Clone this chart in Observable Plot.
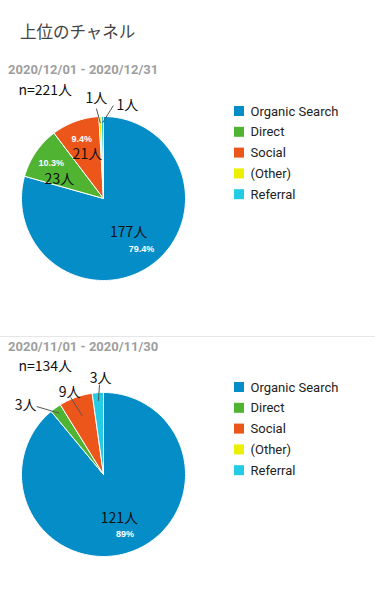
<!DOCTYPE html>
<html><head><meta charset="utf-8">
<script src="https://cdn.jsdelivr.net/npm/d3@7"></script>
<script src="https://cdn.jsdelivr.net/npm/@observablehq/plot@0.6"></script>
<style>
body{margin:0;background:#fff;width:375px;height:600px;position:relative;overflow:hidden;font-family:Roboto,"Noto Sans CJK JP",sans-serif}
.title{position:absolute;left:20px;top:21px;font-family:"Noto Sans CJK JP";font-size:16.5px;color:#444;line-height:20px;white-space:nowrap}
.date{position:absolute;left:8px;font-family:Roboto;font-weight:bold;font-size:13px;color:#9e9e9e;line-height:16px;white-space:nowrap}
.sep{position:absolute;left:0;width:375px;top:336px;height:1px;background:#e6e6e6}
.chart{position:absolute;left:0}
</style></head><body>
<div class="title">上位のチャネル</div>
<div id="d0" class="date" style="top:62px"></div>
<div id="c0" class="chart" style="top:80px"></div>
<div class="sep"></div>
<div id="d1" class="date" style="top:339px"></div>
<div id="c1" class="chart" style="top:356px"></div>
<script>
// ---- data ----
const channels = ["Organic Search", "Direct", "Social", "(Other)", "Referral"];
const channelColors = ["#058dc7", "#50b432", "#ed561b", "#edef00", "#24cbe5"];
const periods = ["2020/12/01 - 2020/12/31", "2020/11/01 - 2020/11/30"];
const totalsText = ["n=221人", "n=134人"];
const decUsers = [177, 23, 21, 1, 1];
const novUsers = [121, 3, 9, 0, 3];
const series = [decUsers, novUsers];

// ---- layout (not data) ----
const W = 375, H = 240, CX = 103, CY = 118, R = 82;
// outside labels: [leader inner radius factor, line-end dx, dy, text dx, dy] relative to slice edge point
const outerLayout = [
  {"(Other)": [0.92, -3.6, -8, -3.6, -18], "Referral": [0.92, 11, -11, 25, -11]},
  {"Direct": [0.92, -19, -1.4, -30, -2], "Social": [0.76, -5, 0, -6, -5], "Referral": [0.9, 1.7, -8, 2.7, -14]}
];
const innerNudge = [{"Direct": [-5.5, 7], "Organic Search": [-3, -3]}, {}];
const labelFont = "'Noto Sans CJK JP', sans-serif";

function polar(a, r) { return {x: CX + r * Math.sin(a), y: CY - r * Math.cos(a)}; }
function slicePoints(arc) {
  const pts = [{x: CX, y: CY}];
  const n = Math.max(2, Math.ceil((arc.endAngle - arc.startAngle) / (Math.PI / 180)));
  for (let k = 0; k <= n; k++) {
    pts.push(polar(arc.startAngle + (arc.endAngle - arc.startAngle) * k / n, R));
  }
  pts.push({x: CX, y: CY});
  return pts;
}

series.forEach((vals, i) => {
  document.getElementById("d" + i).textContent = periods[i];
  const rows = channels.map((c, j) => ({channel: c, value: vals[j], color: channelColors[j]}));
  const total = d3.sum(vals);
  const arcs = d3.pie().sort(null).value(d => d.value)(rows);
  const marks = [];
  arcs.filter(a => a.data.value > 0).forEach(a => {
    marks.push(Plot.line(slicePoints(a), {x: "x", y: "y", fill: a.data.color, stroke: "#fff", strokeWidth: 1, strokeLinejoin: "round"}));
  });
  const inner = [], outer = [];
  arcs.forEach(a => {
    if (a.data.value <= 0) return;
    const mid = (a.startAngle + a.endAngle) / 2;
    const frac = a.data.value / total;
    const text = a.data.value + "人";
    if (frac >= 0.08) {
      const nud = innerNudge[i][a.data.channel] || [0, 0];
      const p = polar(mid, R * 0.57), q = polar(mid, R * 0.77);
      inner.push({x: p.x + nud[0], y: p.y + nud[1], text, px: q.x, py: q.y, pct: (+(frac * 100).toFixed(1)) + "%"});
    } else {
      const L = outerLayout[i][a.data.channel] || [0.92, 0, -10, 0, -18];
      const e = polar(mid, R), s = polar(mid, R * L[0]);
      outer.push({x1: s.x, y1: s.y, x2: e.x + L[1], y2: e.y + L[2], tx: e.x + L[3], ty: e.y + L[4], text});
    }
  });
  marks.push(Plot.link(outer, {x1: "x1", y1: "y1", x2: "x2", y2: "y2", stroke: "#555", strokeWidth: 1}));
  marks.push(Plot.text(outer, {x: "tx", y: "ty", text: "text", fontSize: 14, fill: "#111", fontFamily: labelFont}));
  marks.push(Plot.text(inner, {x: "x", y: "y", text: "text", fontSize: 14, fill: "#111", fontFamily: labelFont}));
  marks.push(Plot.text(inner, {x: "px", y: "py", text: "pct", fontSize: 9, fontWeight: "bold", fill: "#fff", fontFamily: "'Liberation Sans', Arial, sans-serif"}));
  marks.push(Plot.text([totalsText[i]], {x: 18, y: 10, text: d => d, textAnchor: "start", fontSize: 14, fill: "#111", fontFamily: labelFont}));
  // legend
  const leg = rows.map((r, j) => ({...r, y1: 26 + j * 20.8}));
  marks.push(Plot.rect(leg, {x1: 234, x2: 244, y1: "y1", y2: d => d.y1 + 10, fill: "color"}));
  marks.push(Plot.text(leg, {x: 250, y: d => d.y1 + 5, text: "channel", textAnchor: "start", fontSize: 13, fill: "#222", fontFamily: "Roboto, sans-serif"}));

  const svg = Plot.plot({
    width: W, height: H, margin: 0,
    x: {domain: [0, W], range: [0, W], axis: null},
    y: {domain: [0, H], range: [0, H], axis: null},
    color: {type: "identity"},
    style: {background: "transparent", fontFamily: "Roboto, sans-serif"},
    marks
  });
  document.getElementById("c" + i).appendChild(svg);
});
</script>
</body></html>
